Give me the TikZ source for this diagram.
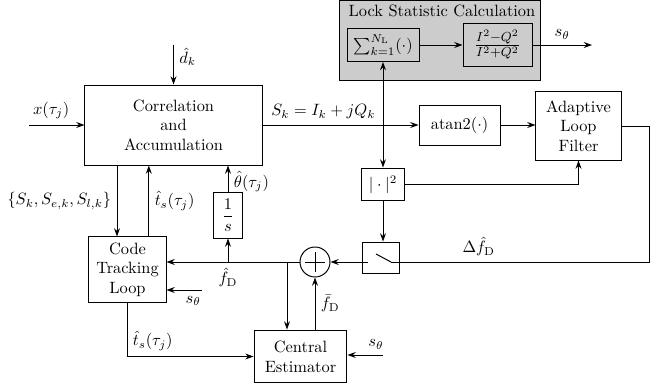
\documentclass[tikz,border=0pt]{standalone}
\usepackage{amsmath, amssymb}
\usepackage{tikz}
\usetikzlibrary{positioning, arrows.meta, calc}

\begin{document}
\begin{tikzpicture}[x=0.61pt, y=-0.61pt,
  block/.style={draw, line width=0.6pt, align=center, inner sep=0pt},
  sig/.style={-{Stealth[length=5pt, width=3.6pt]}, line width=0.6pt},
  wire/.style={line width=0.6pt}]
  \useasboundingbox (0,0) rectangle (657,390);
  % Lock statistic group
  \node[block, fill=gray!40, minimum width=122.6pt, minimum height=48.2pt] (lock) at (439.5,40.5) {};
  \node (locktitle) at (442,11) {Lock Statistic Calculation};
  \node[block, minimum width=43.9pt, minimum height=20.1pt] (accum) at (383,45) {$\sum_{k=1}^{N_\mathrm{L}}(\cdot)$};
  \node[block, minimum width=42.1pt, minimum height=26.8pt, font=\large] (ratio) at (497.5,45) {$\frac{I^2-Q^2}{I^2+Q^2}$};
  % Blocks
  \node[block, minimum width=108pt, minimum height=48.8pt] (corr) at (173.5,125) {Correlation\\and\\Accumulation};
  \node[block, minimum width=49.4pt, minimum height=24.4pt] (atan) at (459.5,125) {atan2$(\cdot)$};
  \node[block, minimum width=51.9pt, minimum height=41.5pt] (alf) at (578.5,126) {Adaptive\\Loop\\Filter};
  \node[block, minimum width=26.8pt, minimum height=20.1pt] (absq) at (383,184.5) {$|\cdot|^2$};
  \node[block, minimum width=22pt, minimum height=19.5pt] (sw) at (381,258) {};
  \node[draw, circle, line width=0.6pt, minimum size=18.3pt] (sumc) at (315,262) {};
  \node[block, minimum width=47pt, minimum height=39.7pt] (ctl) at (127.5,269.5) {Code\\Tracking\\Loop};
  \node[block, minimum width=17.1pt, minimum height=27.5pt] (integ) at (228,215.5) {$\dfrac{1}{s}$};
  \node[block, minimum width=56.7pt, minimum height=32.3pt] (ce) at (300.5,356.5) {Central\\Estimator};
  % Free ends and branch points
  \coordinate (xin) at (29,125);
  \coordinate (dk) at (173.5,45);
  \coordinate (split) at (383,125);
  \coordinate (sout) at (592,45);
  \coordinate (fbr) at (649,126);
  \coordinate (swin) at (391,262);
  \coordinate (swout) at (368,262);
  \coordinate (cebr) at (287,262);
  \coordinate (stctl) at (202,290);
  \coordinate (stce) at (383,355);
  % Plus sign
  \draw[wire] (sumc.center) +(-10,0) -- +(10,0) (sumc.center) +(0,-10) -- +(0,10);
  % Upper path
  \draw[sig] (xin) -- (corr.west) node[pos=0.4, above] {$x(\tau_j)$};
  \draw[sig] (dk) -- (corr.north) node[pos=0.3, right] {$\hat{d}_k$};
  \draw[sig] (corr.east) -- (atan.west) node[pos=0.39, above] {$S_k = I_k + jQ_k$};
  \draw[sig] (split) -- (accum.south);
  \draw[sig] (split) -- (absq.north);
  \draw[sig] (accum) -- (ratio);
  \draw[sig] (ratio.east) -- (sout) node[midway, above] {$s_\theta$};
  \draw[sig] (atan.east) -- (atan.east -| alf.west);
  \draw[sig] (absq.east) -| (alf.south);
  \draw[sig] (absq.south) -- (absq.south |- sw.north);
  % Feedback through the switch
  \draw[wire] (alf.east) -- (fbr) |- (swin) node[pos=0.83, above] {$\Delta\hat{f}_\mathrm{D}$};
  \draw[wire] (swin) -- ++(-15,-8);
  \draw[sig] (swout) -- (sumc.east);
  \draw[sig] (sumc.west) -- (sumc.west -| ctl.east);
  \draw[sig] (sumc.west -| integ.south) -- (integ.south) node[at start, below] {$\hat{f}_\mathrm{D}$};
  \draw[sig] (integ.north) -- (integ.north |- corr.south) node[pos=0.4, right] {$\hat{\theta}(\tau_j)$};
  \draw[sig] (cebr) -- (cebr |- ce.north);
  \draw[sig] (ce.north -| sumc) -- (sumc.south) node[midway, right] {$\bar{f}_\mathrm{D}$};
  % Code loop
  \draw[sig] ([xshift=-6.4pt]corr.south -| ctl.north) -- ([xshift=-6.4pt]ctl.north) node[midway, left] {$\{S_k, S_{e,k}, S_{l,k}\}$};
  \draw[sig] ([xshift=13pt]ctl.north) -- ([xshift=13pt]ctl.north |- corr.south) node[midway, right] {$\hat{t}_s(\tau_j)$};
  \draw[sig] (stctl) -- (stctl -| ctl.east) node[pos=0.25, below] {$s_\theta$};
  \draw[sig] (ctl.south) |- (ce.west) node[pos=0.6, above] {$\hat{t}_s(\tau_j)$};
  \draw[sig] (stce) -- (stce -| ce.east) node[pos=0.2, above] {$s_\theta$};
\end{tikzpicture}
\end{document}
